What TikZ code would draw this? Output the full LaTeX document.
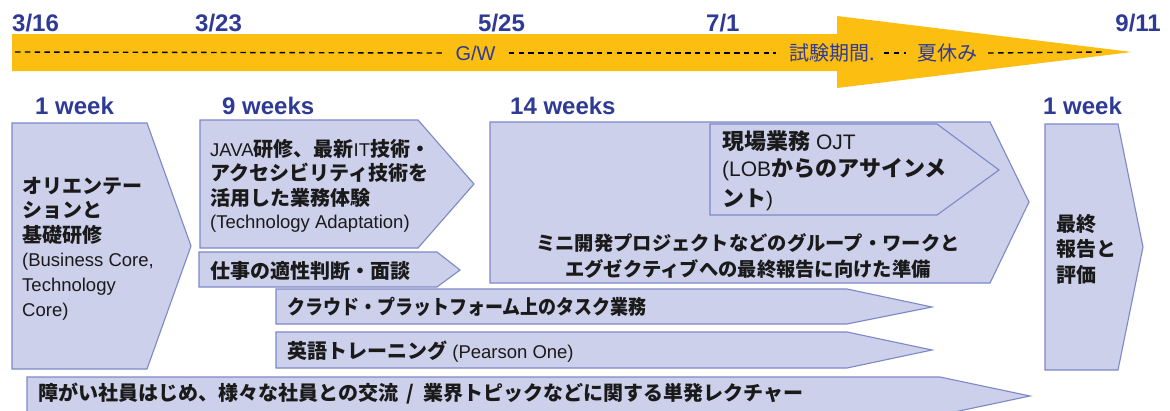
\documentclass[tikz,border=0pt]{standalone}
\usepackage{fontspec}
\setmainfont{Liberation Sans}
\newfontfamily\jp{Noto Sans CJK JP}
\definecolor{arrowyellow}{HTML}{FCBE11}
\definecolor{boxfill}{HTML}{CCD0EA}
\definecolor{boxline}{HTML}{7D88C8}
\definecolor{hdblue}{HTML}{2E3A96}
\definecolor{ink}{HTML}{1A1A1A}
\newcommand\J[1]{{\jp\bfseries #1}}
\newcommand\jn[1]{{\jp\mdseries #1}}
\newcommand\lat[1]{{\rmfamily\mdseries\fontsize{18.5}{22}\selectfont #1}}
\newcommand\latb[1]{{\rmfamily\mdseries\fontsize{21}{26}\selectfont #1}}
\begin{document}
\begin{tikzpicture}[x=1pt,y=-1pt,
 box/.style={draw=boxline,fill=boxfill,line width=1.1pt},
 hd/.style={font=\bfseries\fontsize{24}{28}\selectfont,text=hdblue,inner sep=0pt},
 tl/.style={font=\fontsize{20}{24}\selectfont,text=hdblue,inner ysep=0pt},
 bt/.style={font=\fontsize{20}{24}\selectfont,text=ink,inner sep=0pt,anchor=west},
 bl/.style={font=\fontsize{18.5}{22}\selectfont,text=ink,inner sep=0pt,anchor=west},
 ojt/.style={font=\fontsize{22}{26}\selectfont,text=ink,inner sep=0pt,anchor=west},
 dashline/.style={draw=black,line width=1.4pt,dash pattern=on 5.5pt off 4.3pt}]
\useasboundingbox (0,0) rectangle (1170,410);
\clip (0,0) rectangle (1170,410);

% timeline arrow
\fill[arrowyellow] (12,34) -- (837,34) -- (837,16) -- (1132,52) -- (837,88) -- (837,71) -- (12,71) -- cycle;

% dates
\node[hd,anchor=west] (d316) at (12,23) {3/16};
\node[hd,anchor=west] (d323) at (195,23) {3/23};
\node[hd,anchor=west] (d525) at (478,23) {5/25};
\node[hd,anchor=west] (d701) at (706,23) {7/1};
\node[hd,anchor=east] (d911) at (1161,23) {9/11};

% dashed line with labels
\coordinate (ds) at (15,52);
\coordinate (de) at (1104,52);
\node[tl,inner xsep=13pt] (gw) at (475.5,53) {G/W};
\node[tl,inner xsep=13pt,anchor=west] (exam) at (776,53) {\jn{試験期間.}};
\node[tl,inner xsep=11pt] (summer) at (947,53) {\jn{夏休み}};
\draw[dashline] (ds) -- (gw.west);
\draw[dashline] (gw.east) -- (exam.west);
\draw[dashline] ([xshift=-4pt]exam.east) -- (summer.west);
\draw[dashline] (summer.east) -- (de);

% durations
\node[hd,anchor=west] (w1) at (35,106) {1 week};
\node[hd,anchor=west] (w9) at (222,106) {9 weeks};
\node[hd,anchor=west] (w14) at (510,106) {14 weeks};
\node[hd,anchor=west] (w1b) at (1043,106) {1 week};

% shapes
\path[box] (12,123) -- (147,123) -- (191,246) -- (147,369) -- (12,369) -- cycle;
\path[box] (200,120) -- (418,120) -- (474,184) -- (418,248) -- (200,248) -- cycle;
\path[box] (199,252) -- (437,252) -- (460,270) -- (437,287) -- (199,287) -- cycle;
\path[box] (276,289) -- (847,289) -- (932,307) -- (847,324) -- (276,324) -- cycle;
\path[box] (276,332) -- (847,332) -- (932,350) -- (847,368) -- (276,368) -- cycle;
\path[box] (27,377) -- (940,377) -- (1030,396) -- (940,415) -- (27,415) -- cycle;
\path[box] (490,122) -- (990,122) -- (1029,202) -- (990,283) -- (490,283) -- cycle;
\path[box] (710,124) -- (937,124) -- (999,170) -- (937,215) -- (710,215) -- cycle;
\path[box] (1045,124) -- (1118,124) -- (1143,247) -- (1118,370) -- (1045,370) -- cycle;

% orientation text
\node[bt] (o1) at (22,186) {\J{オリエンテー}};
\node[bt] (o2) at (22,210) {\J{ションと}};
\node[bt] (o3) at (22,235) {\J{基礎研修}};
\node[bl] (o4) at (22,262) {(Business Core,};
\node[bl] (o5) at (22,287) {Technology};
\node[bl] (o6) at (22,312) {Core)};

% java block
\node[bt] (j1) at (210,149) {\lat{JAVA}\J{研修、最新}\lat{IT}\J{技術・}};
\node[bt] (j2) at (210,173) {\J{アクセシビリティ技術を}};
\node[bt] (j3) at (210,198) {\J{活用した業務体験}};
\node[bl] (j4) at (210,224) {(Technology Adaptation)};

% other rows
\node[bt] (apt) at (210,271) {\J{仕事の適性判断・面談}};
\node[bt] (cloud) at (287,307) {\scalebox{0.9}[1]{\J{クラウド・プラットフォーム上のタスク業務}}};
\node[bt] (eng) at (287,352) {\J{英語トレーニング}\lat{ (Pearson One)}};
\node[bt] (lect) at (38,394) {\J{障がい社員はじめ、様々な社員との交流\hspace{9pt}/\hspace{9pt}業界トピックなどに関する単発レクチャー}};

% OJT block
\node[ojt] (t1) at (722,141) {\J{現場業務}\latb{ OJT}};
\node[ojt] (t2) at (722,170) {\latb{(LOB}\J{からのアサインメ}};
\node[ojt] (t3) at (722,200) {\J{ント}\latb{)}};

% mini project
\node[font=\fontsize{19.3}{24}\selectfont,text=ink,inner sep=0pt] (m1) at (748,243) {\J{ミニ開発プロジェクトなどのグループ・ワークと}};
\node[font=\fontsize{19.3}{24}\selectfont,text=ink,inner sep=0pt] (m2) at (748,269) {\J{エグゼクティブへの最終報告に向けた準備}};

% final
\node[bt] (f1) at (1056,224) {\J{最終}};
\node[bt] (f2) at (1056,249) {\J{報告と}};
\node[bt] (f3) at (1056,275) {\J{評価}};
\end{tikzpicture}
\end{document}
